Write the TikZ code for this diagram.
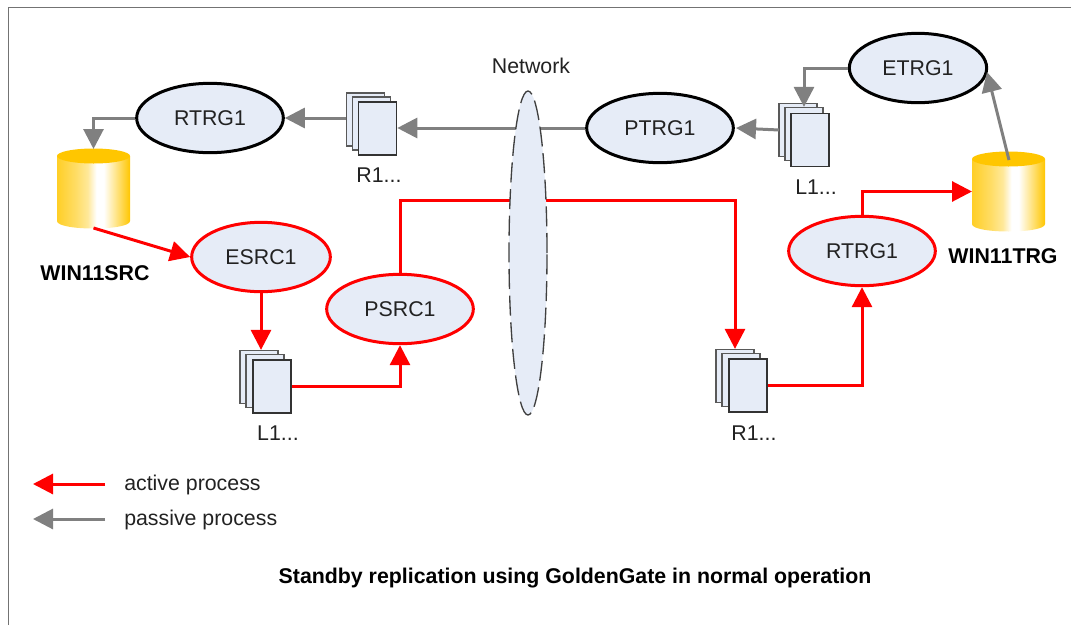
\documentclass[tikz,border=0pt]{standalone}
\usepackage{fontspec}
\setmainfont{Liberation Sans}
\usetikzlibrary{shapes.geometric,arrows.meta}
\definecolor{procfill}{HTML}{E6ECF7}
\definecolor{txt}{HTML}{222222}
\definecolor{arrgray}{HTML}{808080}
\definecolor{arrred}{HTML}{FF0000}
\definecolor{capc}{HTML}{FFC600}
\pgfdeclarehorizontalshading{dbshade}{100bp}{color(0bp)=(capc!85!white);color(25bp)=(capc!85!white);color(38bp)=(capc!60!white);color(46bp)=(capc!40!white);color(52bp)=(white);color(57bp)=(white);color(66bp)=(capc!50!white);color(75bp)=(capc);color(100bp)=(capc)}
\tikzset{
  lbl/.style={font=\fontsize{16}{18}\selectfont,text=txt,inner sep=0pt},
  boldlbl/.style={font=\fontsize{16}{18}\selectfont\bfseries,text=black,inner sep=0pt},
  proc/.style={ellipse,draw,fill=procfill,line width=2.25pt,minimum width=110pt,minimum height=52pt,inner sep=0pt,font=\fontsize{16}{18}\selectfont,text=txt},
  passiveproc/.style={proc,draw=black},
  activeproc/.style={proc,draw=arrred},
  backsheet/.style={rectangle,draw=black!65,fill=procfill,line width=1.2pt,minimum width=28.5pt,minimum height=39.5pt,inner sep=0pt},
  frontsheet/.style={backsheet,draw=black!80},
  dbbox/.style={rectangle,minimum width=54.75pt,minimum height=59.25pt,inner sep=0pt,outer sep=0pt},
  activearr/.style={draw=arrred,line width=2.25pt,-{Triangle[length=15pt,width=15pt,fill=arrred]}},
  passivearr/.style={draw=arrgray,line width=2.25pt,-{Triangle[length=15pt,width=15pt,fill=arrgray]}},
  netstyle/.style={ellipse,draw=black!75,dash pattern=on 15pt off 5pt,fill=procfill,line width=1pt,minimum width=28.5pt,minimum height=243pt,inner sep=0pt}
}
\begin{document}
\begin{tikzpicture}[x=0.75pt,y=-0.75pt]
\useasboundingbox (0,0) rectangle (1071,625);
\draw[black!55,line width=1.1pt] (8.5,625) -- (8.5,7.5) -- (1071,7.5);

% databases
\shade[shading=dbshade] (57,156) -- (57,221) .. controls (57,231) and (130,231) .. (130,221) -- (130,156) -- cycle;
\fill[capc] (93.5,156) ellipse [x radius=36.5,y radius=7.5];
\node[dbbox] (db1) at (93.5,188.5) {};
\shade[shading=dbshade] (972,159) -- (972,224) .. controls (972,234) and (1045,234) .. (1045,224) -- (1045,159) -- cycle;
\fill[capc] (1008.5,159) ellipse [x radius=36.5,y radius=7.5];
\node[dbbox] (db2) at (1008.5,191.5) {};

% processes
\node[passiveproc] (rtrga) at (210,118) {RTRG1};
\node[passiveproc] (ptrg) at (660,128) {PTRG1};
\node[passiveproc,minimum width=103pt] (etrg) at (918,68) {ETRG1};
\node[activeproc,minimum width=104pt] (esrc) at (261,257) {ESRC1};
\node[activeproc] (psrc) at (400,309) {PSRC1};
\node[activeproc] (rtrgb) at (862,251) {RTRG1};

% trail stacks
\node[backsheet] (r1a) at (365.5,119.5) {};
\node[backsheet] (r1b) at (371.5,123.5) {};
\node[frontsheet] (r1c) at (377.5,128.5) {};
\node[backsheet] (l1a) at (798,130) {};
\node[backsheet] (l1b) at (804,134) {};
\node[frontsheet] (l1c) at (810,140) {};
\node[backsheet] (l2a) at (259,377) {};
\node[backsheet] (l2b) at (265,381) {};
\node[frontsheet] (l2c) at (272,386.5) {};
\node[backsheet] (r2a) at (735,376) {};
\node[backsheet] (r2b) at (741,380) {};
\node[frontsheet] (r2c) at (748,385.5) {};

% helper coordinates
\coordinate (redrun) at (528,200);
\coordinate (db2out) at (1009,160);
\coordinate (etrgin) at (987,72);
\coordinate (l1out) at (779,130);
\coordinate (ptrgin) at (736,128);
\coordinate (la) at (105,484);
\coordinate (lb) at (33,484);
\coordinate (lc) at (105,519);
\coordinate (ld) at (33,519);

% passive connectors
\draw[passivearr] (rtrga.west) -| (db1.north);
\draw[passivearr] (r1a.west |- rtrga.east) -- (rtrga.east);
\draw[passivearr] (ptrg.west) -- (r1c.east |- ptrg.west);
\draw[passivearr] (l1out) -- (ptrgin);
\draw[passivearr] (etrg.west) -| (l1b.north);
\draw[passivearr] (db2out) -- (etrgin);

% active connectors
\draw[activearr] (db1.south) -- (esrc.west);
\draw[activearr] (esrc.south) -- (esrc.south |- l2a.north);
\draw[activearr] (l2c.east) -| (psrc.south);
\draw[activearr] (psrc.north) |- (redrun) -| (r2a.north);
\draw[activearr] (r2c.east) -| (rtrgb.south);
\draw[activearr] (rtrgb.north) |- (db2.west);

% network
\node[netstyle] (net) at (528,253) {};
\node[lbl] (netl) at (531,66) {Network};

% labels
\node[lbl] (r1t) at (379,175) {R1...};
\node[lbl] (l1t) at (816,187) {L1...};
\node[lbl] (l2t) at (278,433) {L1...};
\node[lbl] (r2t) at (754,433) {R1...};
\node[boldlbl] (w1) at (95,273) {WIN11SRC};
\node[boldlbl] (w2) at (1003,256) {WIN11TRG};

% legend
\draw[activearr] (la) -- (lb);
\draw[passivearr] (lc) -- (ld);
\node[lbl,anchor=west] (lt1) at (124,485) {active process};
\node[lbl,anchor=west] (lt2) at (124,519.5) {passive process};
\node[boldlbl] (title) at (575,578) {Standby replication using GoldenGate in normal operation};
\end{tikzpicture}
\end{document}
